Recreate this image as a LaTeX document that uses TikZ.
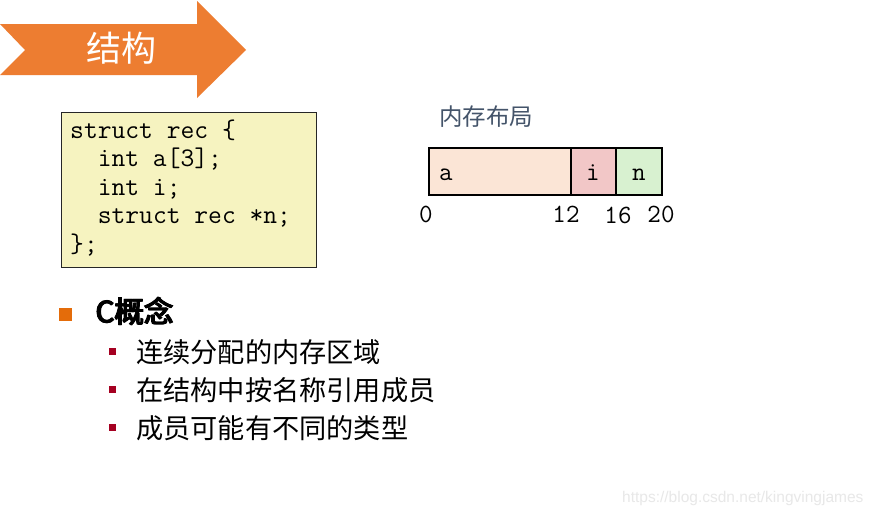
\documentclass[tikz,border=0pt]{standalone}
\usepackage{fontspec}
\newfontfamily\cjk{Noto Sans CJK SC}[AutoFakeBold=3]
\newfontfamily\wm{Liberation Sans}
\definecolor{arroworange}{HTML}{ED7D31}
\definecolor{bulletorange}{HTML}{E46C0A}
\definecolor{bulletred}{HTML}{A50021}
\definecolor{codefill}{HTML}{F6F3C0}
\definecolor{afill}{HTML}{FBE5D6}
\definecolor{ifill}{HTML}{F2C7C7}
\definecolor{nfill}{HTML}{D8F1D0}
\definecolor{titlegray}{HTML}{44546A}
\begin{document}
\begin{tikzpicture}[x=1pt,y=-1pt,
  codeline/.style={anchor=base west,inner sep=0pt,font=\fontsize{26.8}{30}\ttfamily},
  memlabel/.style={anchor=base,inner sep=0pt,font=\fontsize{26.3}{30}\ttfamily},
  offlabel/.style={anchor=base,inner sep=0pt,font=\fontsize{26.3}{30}\ttfamily},
  cell/.style={draw=black,line width=2pt},
  subitem/.style={anchor=west,inner sep=0pt,font=\fontsize{27.2}{30}\cjk},
  headitem/.style={anchor=west,inner sep=0pt,font=\fontsize{29.5}{32}\cjk\bfseries},
  subbullet/.style={fill=bulletred,draw=none,minimum size=7pt,inner sep=0pt}]
\useasboundingbox (0,0) rectangle (880,517);
\fill[white] (0,0) rectangle (880,517);
% title arrow
\fill[arroworange] (0,24) -- (197,24) -- (197,1) -- (246,50) -- (197,98) -- (197,75) -- (0,75) -- (25,50) -- cycle;
\node[text=white,font=\fontsize{35}{40}\cjk,inner sep=0pt] (title) at (121,48) {结构};
% code box
\node[draw=black!85,line width=0.8pt,fill=codefill,minimum width=255pt,minimum height=155pt,inner sep=0pt] (code) at (188.5,189.5) {};
\node[codeline] (c1) at (70,138) {struct rec \{};
\node[codeline] (c2) at (70,166.5) {\ \ int a[3];};
\node[codeline] (c3) at (70,195) {\ \ int i;};
\node[codeline] (c4) at (70,223.5) {\ \ struct rec *n;};
\node[codeline] (c5) at (70,252) {\};};
% memory layout
\node[text=titlegray,font=\fontsize{23.5}{28}\cjk,anchor=west,inner sep=0pt] (memtitle) at (439,117) {内存布局};
\draw[cell,fill=afill] (429,148) rectangle (571,195);
\draw[cell,fill=ifill] (571,148) rectangle (616,195);
\draw[cell,fill=nfill] (616,148) rectangle (662,195);
\node[memlabel] (la) at (446,180) {a};
\node[memlabel] (li) at (593,180) {i};
\node[memlabel] (ln) at (639,180) {n};
\node[offlabel] (o0) at (426,222) {0};
\node[offlabel] (o12) at (566,222) {12};
\node[offlabel] (o16) at (618,223) {16};
\node[offlabel] (o20) at (661,222) {20};
% bullets
\fill[bulletorange] (59,308) rectangle (72,321);
\node[headitem] (conceptb) at (95.8,311) {C概念};
\node[headitem] (concept) at (95,311) {C概念};
\node[subbullet] (b1) at (112,351) {};
\node[subitem] (t1) at (136,352) {连续分配的内存区域};
\node[subbullet] (b2) at (112,389) {};
\node[subitem] (t2) at (136,390) {在结构中按名称引用成员};
\node[subbullet] (b3) at (112,427) {};
\node[subitem] (t3) at (136,428) {成员可能有不同的类型};
% watermark
\node[text=black!9,font=\fontsize{15.5}{18}\wm,anchor=west,inner sep=0pt] (wm) at (622,498) {https://blog.csdn.net/kingvingjames};
\end{tikzpicture}
\end{document}
